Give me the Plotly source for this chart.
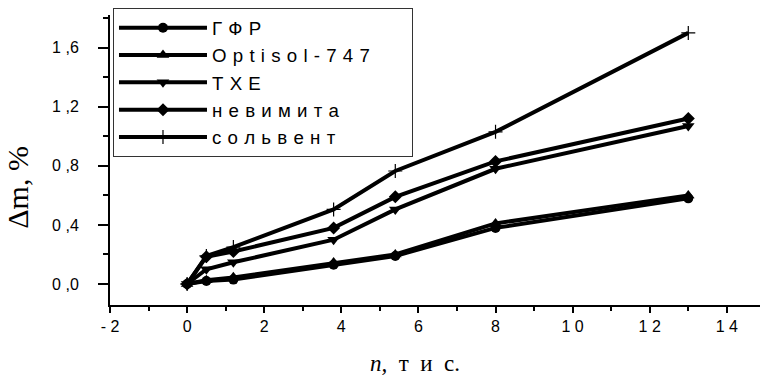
import plotly.graph_objects as go

# ---- data ----
n_values = [0, 0.5, 1.2, 3.8, 5.4, 8, 13]
series_names = ["Г Ф Р", "O p t i s o l - 7 4 7", "Т Х Е", "н е в и м и т а", "с о л ь в е н т"]
gfr = [0.0, 0.02, 0.03, 0.13, 0.19, 0.38, 0.58]
optisol = [0.0, 0.025, 0.045, 0.145, 0.20, 0.41, 0.60]
txe = [0.0, 0.10, 0.147, 0.30, 0.505, 0.78, 1.07]
nevymyta = [0.0, 0.185, 0.22, 0.38, 0.59, 0.83, 1.12]
solvent = [0.0, 0.19, 0.25, 0.505, 0.765, 1.03, 1.70]
series_values = [gfr, optisol, txe, nevymyta, solvent]
symbols = ["circle", "triangle-up", "triangle-down", "diamond", "cross-thin"]

x_tick_vals = [-2, 0, 2, 4, 6, 8, 10, 12, 14]
x_tick_text = ["- 2", "0", "2", "4", "6", "8", "1 0", "1 2", "1 4"]
y_tick_vals = [0.0, 0.4, 0.8, 1.2, 1.6]
y_tick_text = ["0 ,0", "0 ,4", "0 ,8", "1 ,2", "1 ,6"]

SP = "\u2004"
fig = go.Figure()
for name, vals, sym in zip(series_names, series_values, symbols):
    label = name.replace(" ", SP)
    if name.startswith("O"):
        label += "\u00a0" * 7  # widen the legend box like the reference
    if sym == "cross-thin":
        marker = dict(symbol=sym, size=10, color="black", line=dict(color="black", width=1.2))
    elif sym.startswith("triangle"):
        marker = dict(symbol=sym, size=11, color="black", line=dict(width=0))
    else:
        marker = dict(symbol=sym, size=10, color="black", line=dict(width=0))
    fig.add_trace(go.Scatter(
        x=n_values, y=vals, name=label, mode="lines+markers",
        line=dict(color="black", width=4), marker=marker,
    ))

axis_font = dict(family="Liberation Sans, Arial, sans-serif", size=16, color="black")
fig.update_layout(
    width=760, height=377,
    margin=dict(l=110, r=0, t=15, b=72),
    paper_bgcolor="white", plot_bgcolor="white",
    showlegend=True,
    legend=dict(
        x=0.0046, y=1.024, xanchor="left", yanchor="top",
        bordercolor="#333", borderwidth=1, bgcolor="white",
        font=dict(family="Liberation Sans, Arial, sans-serif", size=18.7, color="black"),
        itemwidth=88, tracegroupgap=0,
    ),
    xaxis=dict(
        range=[-2, 14.86], showgrid=False, zeroline=False,
        showline=True, linecolor="black", linewidth=2,
        ticks="outside", ticklen=6, tickwidth=1.5, tickcolor="black",
        tickvals=x_tick_vals, ticktext=x_tick_text, tickfont=axis_font,
        minor=dict(dtick=1, ticks="outside", ticklen=4, tickwidth=1.5, tickcolor="black"),
    ),
    yaxis=dict(
        range=[-0.142, 1.821], showgrid=False, zeroline=False,
        showline=True, linecolor="black", linewidth=2,
        ticks="outside", ticklen=10, tickwidth=1.5, tickcolor="black",
        tickvals=y_tick_vals, ticktext=y_tick_text, tickfont=axis_font,
        ticklabelstandoff=16,
        minor=dict(dtick=0.2, ticks="outside", ticklen=5, tickwidth=1.5, tickcolor="black"),
    ),
    annotations=[
        dict(text="Δm, %", xref="paper", yref="paper", x=-0.142, y=0.407,
             textangle=-90, showarrow=False, xanchor="center", yanchor="middle",
             font=dict(family="Liberation Serif, Times New Roman, serif", size=30, color="black")),
        dict(text="<i>n,</i>" + "\u2002" + "т" + "\u2002" + "и" + "\u2002" + "с.", xref="paper", yref="paper",
             x=0.469, y=-0.2, showarrow=False, xanchor="center", yanchor="middle",
             font=dict(family="Liberation Serif, Times New Roman, serif", size=23, color="black")),
    ],
)

fig.write_html("out.html", config={"displayModeBar": False},
               post_script="document.body.style.margin='0';")
